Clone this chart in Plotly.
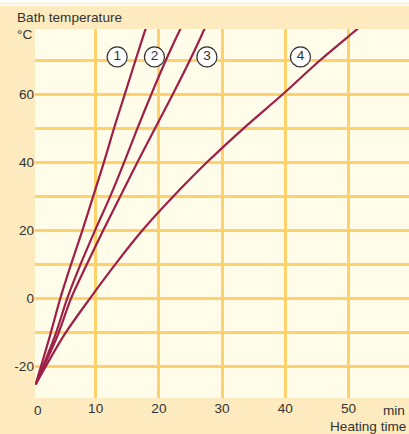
import plotly.graph_objects as go

# heating curves: time (min) vs bath temperature (°C)
temps = [-25.3, -10.8, 0, 10, 20, 30, 40, 50, 60, 70, 79.2, 81]
time_1 = [0.5, 2.8, 4.4, 6.1, 7.9, 9.6, 11.3, 12.9, 14.6, 16.3, 17.9, 18.3]
time_2 = [0.5, 3.6, 5.5, 7.6, 9.9, 12.3, 14.5, 16.6, 18.8, 21.1, 23.4, 23.9]
time_3 = [0.5, 4.0, 6.1, 8.6, 11.2, 13.9, 16.6, 19.4, 22.2, 24.9, 27.2, 27.6]
time_4 = [0.5, 5.0, 9.1, 13.1, 17.4, 22.3, 27.6, 33.4, 39.6, 45.5, 51.4, 52.5]

curve_labels = ["1", "2", "3", "4"]
label_x = [13.4, 19.3, 27.6, 42.4]
label_y = [71.0, 71.0, 71.0, 71.0]

x_ticks = [10, 20, 30, 40, 50]
y_ticks = [-20, 0, 20, 40, 60]
y_tick_text = ["-20", "0", "20", "40", "60"]

LINE = "#9E1F48"
GRID = "#FFD16B"
TEXT = "#333333"
FONT = "Liberation Sans, Arial, sans-serif"
FS = 13.6

fig = go.Figure()
for xs in (time_1, time_2, time_3, time_4):
    fig.add_trace(go.Scatter(
        x=xs, y=temps, mode="lines",
        line={"color": LINE, "width": 2.2, "shape": "spline", "smoothing": 0.8},
        showlegend=False, hoverinfo="skip",
    ))

fig.add_trace(go.Scatter(
    x=label_x, y=label_y, mode="markers+text",
    text=curve_labels, textposition="middle center",
    textfont={"size": FS, "color": TEXT, "family": FONT},
    marker={"size": 20, "color": "white", "line": {"color": "#333333", "width": 1.2}},
    showlegend=False, hoverinfo="skip",
))

fig.update_layout(
    width=409, height=434,
    margin={"l": 35, "r": 0, "t": 29, "b": 36},
    paper_bgcolor="#FDEBBF",
    plot_bgcolor="#FFFCE9",
    font={"family": FONT, "size": FS, "color": TEXT},
    xaxis={
        "range": [0.4, 59.57], "tickvals": x_ticks,
        "showgrid": True, "gridcolor": GRID, "gridwidth": 2.5,
        "zeroline": False, "showline": False, "ticks": "",
        "tickfont": {"size": FS, "color": TEXT},
        "fixedrange": True,
    },
    yaxis={
        "range": [-29.3, 79.2], "tickvals": y_ticks, "ticktext": y_tick_text,
        "showgrid": True, "gridcolor": GRID, "gridwidth": 2.5,
        "minor": {"dtick": 10, "tick0": 0, "showgrid": True,
                  "gridcolor": GRID, "gridwidth": 2.5},
        "zeroline": False, "showline": False, "ticks": "",
        "tickfont": {"size": FS, "color": TEXT},
        "fixedrange": True,
    },
    shapes=[
        # white strip with a thin beige rule across the very top
        dict(type="rect", xref="paper", yref="paper", x0=-0.2, x1=1.1,
             y0=1.0623, y1=1.09, fillcolor="white", line_width=0, layer="above"),
        dict(type="line", xref="paper", yref="paper", x0=-0.2, x1=1.1,
             y0=1.0691, y1=1.0691, line={"color": "#FDEBBF", "width": 1.5},
             layer="above"),
    ],
    annotations=[
        dict(text="Bath temperature", xref="paper", yref="paper",
             x=-0.054, y=1.0325, xanchor="left", yanchor="middle",
             showarrow=False, font={"size": FS, "color": TEXT}),
        dict(text="°C", xref="paper", yref="paper",
             x=-0.054, y=0.984, xanchor="left", yanchor="middle",
             showarrow=False, font={"size": FS, "color": TEXT}),
        dict(text="0", xref="x", yref="paper", x=0.87, y=-0.033,
             xanchor="center", yanchor="middle",
             showarrow=False, font={"size": FS, "color": TEXT}),
        dict(text="min", xref="paper", yref="paper", x=0.995, y=-0.033,
             xanchor="right", yanchor="middle",
             showarrow=False, font={"size": FS, "color": TEXT}),
        dict(text="Heating time", xref="paper", yref="paper", x=0.998, y=-0.078,
             xanchor="right", yanchor="middle",
             showarrow=False, font={"size": FS, "color": TEXT}),
    ],
)

fig.write_html("out.html", config={"displayModeBar": False},
               post_script="document.body.style.margin='0';")
